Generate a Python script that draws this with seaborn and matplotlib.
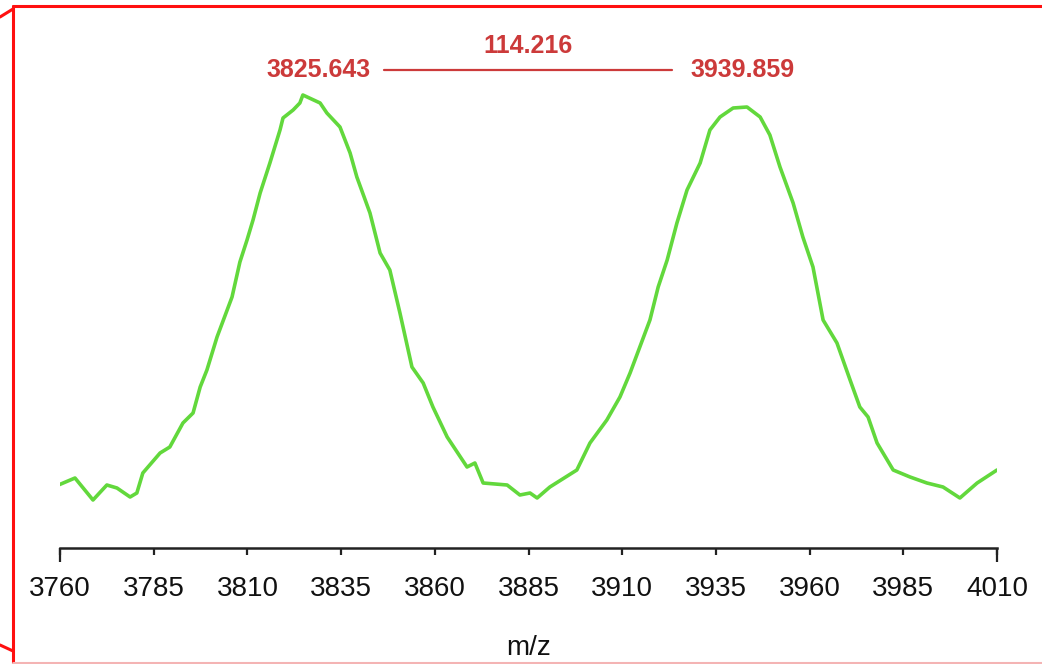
import numpy as np
import pandas as pd
import matplotlib.pyplot as plt
from matplotlib.lines import Line2D
import seaborn as sns

# m/z positions and intensities (arbitrary intensity units)
mz = [3759.6, 3764.0, 3768.8, 3772.5, 3775.2, 3778.7, 3780.5, 3782.1, 3786.7, 3789.3,
      3792.8, 3795.5, 3797.4, 3799.2, 3801.9, 3804.6, 3805.9, 3808.0, 3809.9, 3811.5,
      3813.4, 3816.0, 3818.7, 3819.5, 3822.2, 3824.0, 3824.8, 3829.4, 3831.2, 3834.7,
      3837.4, 3839.2, 3842.7, 3845.4, 3848.0, 3850.7, 3853.9, 3856.9, 3859.5, 3863.3,
      3868.6, 3870.7, 3872.9, 3879.3, 3882.7, 3885.4, 3887.3, 3890.7, 3897.9, 3901.4,
      3905.9, 3909.4, 3912.1, 3914.7, 3917.4, 3919.6, 3922.0, 3924.6, 3927.3, 3930.8,
      3933.4, 3936.1, 3939.6, 3943.3, 3946.8, 3949.4, 3952.1, 3955.6, 3958.2, 3960.9,
      3963.6, 3967.3, 3970.8, 3973.4, 3975.6, 3978.0, 3982.3, 3986.8, 3991.3, 3995.6,
      4000.1, 4004.7, 4010.0]
intensity = [63, 70, 48, 63, 60, 51, 55, 75, 95, 101,
             125, 135, 161, 178, 211, 238, 251, 286, 308, 328,
             355, 385, 418, 430, 438, 445, 453, 445, 435, 421,
             395, 371, 335, 295, 278, 235, 181, 165, 141, 111,
             81, 85, 65, 63, 53, 55, 50, 61, 78, 105,
             128, 151, 175, 201, 228, 261, 288, 325, 358, 385,
             418, 431, 440, 441, 431, 413, 381, 345, 311, 281,
             228, 205, 168, 141, 131, 105, 78, 71, 65, 61,
             50, 65, 78]

peaks = [3825.643, 3939.859]
xticks = [3760, 3785, 3810, 3835, 3860, 3885, 3910, 3935, 3960, 3985, 4010]

df = pd.DataFrame({"mz": mz, "intensity": intensity})

sns.set_theme(style="white")
plt.rcParams["font.family"] = ["Liberation Sans", "DejaVu Sans"]

fig = plt.figure(figsize=(10.42, 6.64), dpi=100)
ax = fig.add_axes([60 / 1042, 116 / 664, 937 / 1042, 528 / 664])

sns.lineplot(data=df, x="mz", y="intensity", ax=ax, color="#62d83c", linewidth=2.6)

ax.set_xlim(3760, 4010)
ax.set_ylim(0, 528)
ax.set_xticks(xticks)
ax.set_xticklabels([str(t) for t in xticks])
ax.xaxis.remove_overlapping_locs = False
ax.set_xticks([xticks[0], xticks[-1]], minor=True)
ax.set_yticks([])
ax.set_xlabel("m/z", fontsize=20, labelpad=24, color="#111111")
ax.set_ylabel("")
for s in ["top", "right", "left"]:
    ax.spines[s].set_visible(False)
ax.spines["bottom"].set_linewidth(1.8)
ax.spines["bottom"].set_color("#222222")
ax.tick_params(axis="x", which="major", direction="out", length=5, width=1.6,
               color="#222222", labelcolor="#111111", labelsize=20, pad=15, bottom=True)
ax.tick_params(axis="x", which="minor", direction="out", length=10, width=1.6,
               color="#222222", bottom=True)

# peak distance annotation
red = "#cc3a3a"
ax.text(3843.0, 478, f"{peaks[0]:.3f}", color=red, fontsize=18, fontweight="bold",
        ha="right", va="center")
ax.text(3928.1, 478, f"{peaks[1]:.3f}", color=red, fontsize=18, fontweight="bold",
        ha="left", va="center")
ax.plot([3846.4, 3923.3], [478, 478], color=red, linewidth=1.6)
ax.text(3884.9, 502, f"{peaks[1] - peaks[0]:.3f}", color=red, fontsize=18,
        fontweight="bold", ha="center", va="center")

# red frame remnants around the picture
def px(x, y):
    return x / 1042, 1 - y / 664

for (x0, y0), (x1, y1), c in [((13, 6), (1042, 6), "#ff1010"),
                              ((13, 6), (13, 664), "#ff1010"),
                              ((0, 17), (13, 9), "#ff1010"),
                              ((0, 645), (13, 651), "#ff1010"),
                              ((13, 663), (1042, 663), "#f4b4b4")]:
    a, b = px(x0, y0)
    c2, d = px(x1, y1)
    fig.add_artist(Line2D([a, c2], [b, d], color=c, linewidth=2.2))

plt.savefig("out.png", dpi=100)
